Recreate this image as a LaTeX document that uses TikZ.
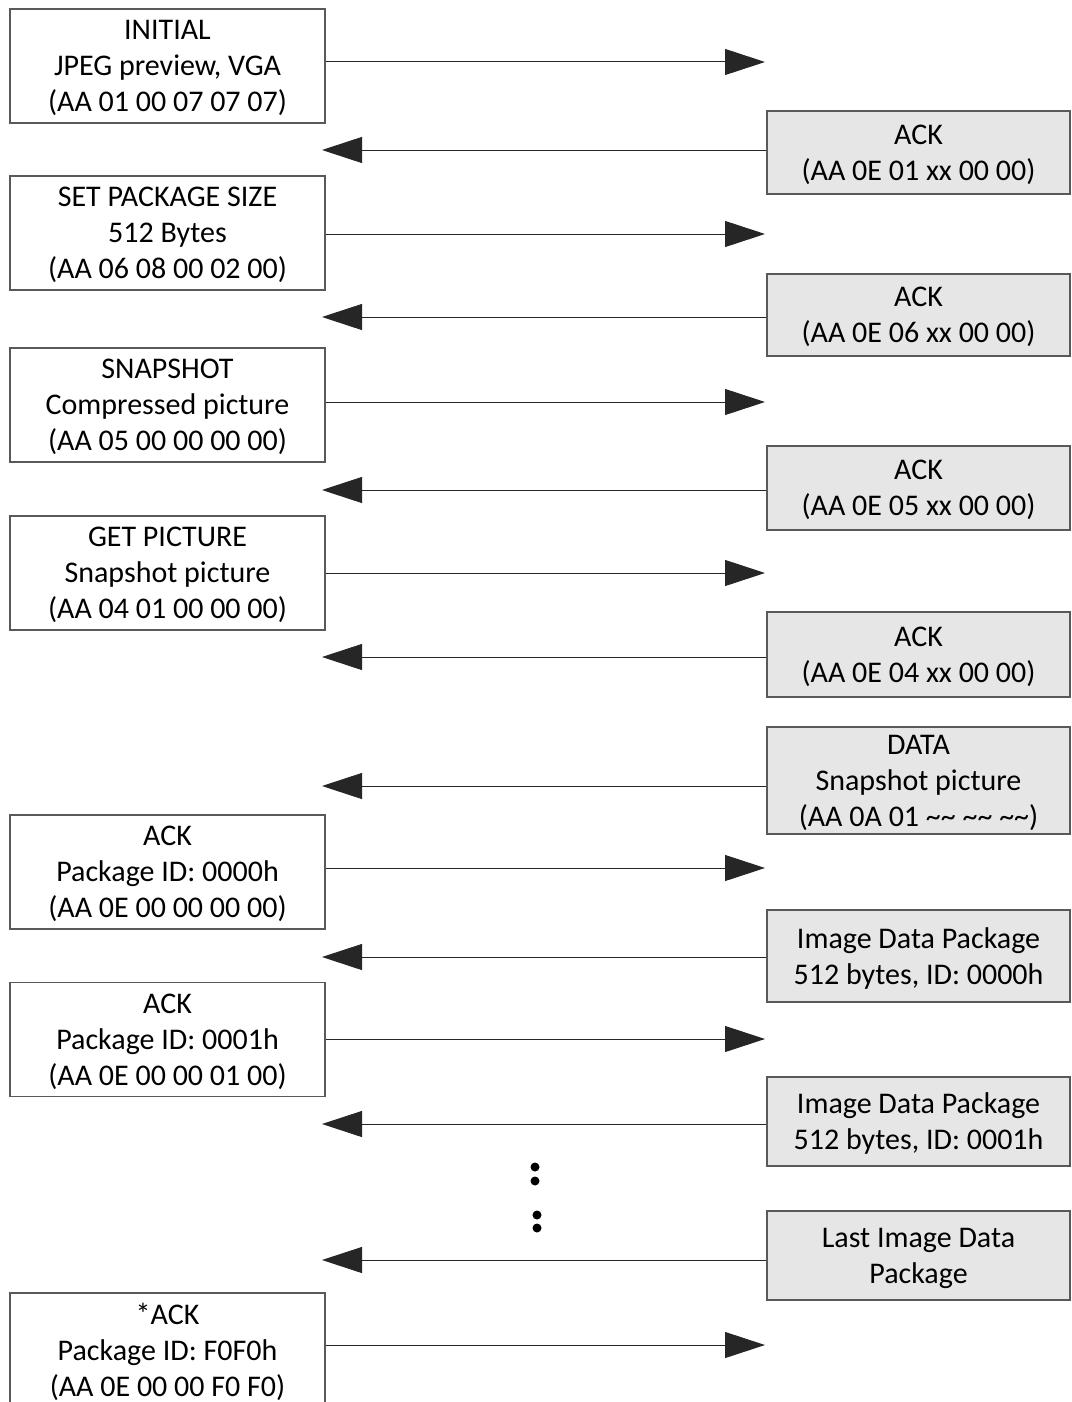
\documentclass[tikz,border=0pt]{standalone}
\usepackage{fontspec}
\setmainfont{Carlito}
\usetikzlibrary{arrows.meta}
\definecolor{boxline}{HTML}{595959}
\definecolor{camfill}{HTML}{E6E6E6}
\newcommand{\tld}{\textasciitilde\textasciitilde}
\tikzset{
    host/.style={draw=boxline,line width=1.3pt,fill=white,minimum width=315pt,minimum height=114pt,align=center,inner sep=0pt,text depth=0pt},
    cam/.style={host,fill=camfill,minimum width=303pt},
    sig/.style={draw=black!85,line width=1pt,-{Triangle[length=40pt,width=26pt]}}
}
\begin{document}
\begin{tikzpicture}[x=1pt,y=-1pt,font=\fontsize{30}{36}\selectfont]
    \useasboundingbox (0,0) rectangle (1071,1402);
    % host side (left)
    \foreach \n/\y/\a/\t in {
        l1/66/62/{INITIAL\\JPEG preview, VGA\\(AA 01 00 07 07 07)},
        l2/233/234/{SET PACKAGE SIZE\\512 Bytes\\(AA 06 08 00 02 00)},
        l3/405/402/{SNAPSHOT\\Compressed picture\\(AA 05 00 00 00 00)},
        l4/573/573/{GET PICTURE\\Snapshot picture\\(AA 04 01 00 00 00)},
        l5/872/868/{ACK\\Package ID: 0000h\\(AA 0E 00 00 00 00)},
        l6/1039.5/1039/{ACK\\Package ID: 0001h\\(AA 0E 00 00 01 00)},
        l7/1350/1345/{*ACK\\Package ID: F0F0h\\(AA 0E 00 00 F0 F0)}}{
        \node[host] (\n) at (167.5,\y) {\t};
        \coordinate (\n tip) at (765,\a);
        \draw[sig] (\n.east |- \n tip) -- (\n tip);
    }
    % camera side (right)
    \foreach \n/\y/\h/\a/\t in {
        r1/152.5/83/150/{ACK\\(AA 0E 01 xx 00 00)},
        r2/315/82/317/{ACK\\(AA 0E 06 xx 00 00)},
        r3/488/84/490/{ACK\\(AA 0E 05 xx 00 00)},
        r4/654.5/85/657/{ACK\\(AA 0E 04 xx 00 00)},
        r5/780.5/107/786/{DATA\\Snapshot picture\\(AA 0A 01 \tld{} \tld{} \tld)},
        r6/956/92/957/{Image Data Package\\512 bytes, ID: 0000h},
        r7/1121.5/89/1124/{Image Data Package\\512 bytes, ID: 0001h},
        r8/1255.5/89/1260/{Last Image Data\\Package}}{
        \node[cam,minimum height=\h pt] (\n) at (918.5,\y) {\t};
        \coordinate (\n tip) at (322,\a);
        \draw[sig] (\n.west |- \n tip) -- (\n tip);
    }
    % dots
    \foreach \p in {(535,1167),(535,1181),(537,1215),(537,1228)}
        \fill \p circle (4.5);
\end{tikzpicture}
\end{document}
